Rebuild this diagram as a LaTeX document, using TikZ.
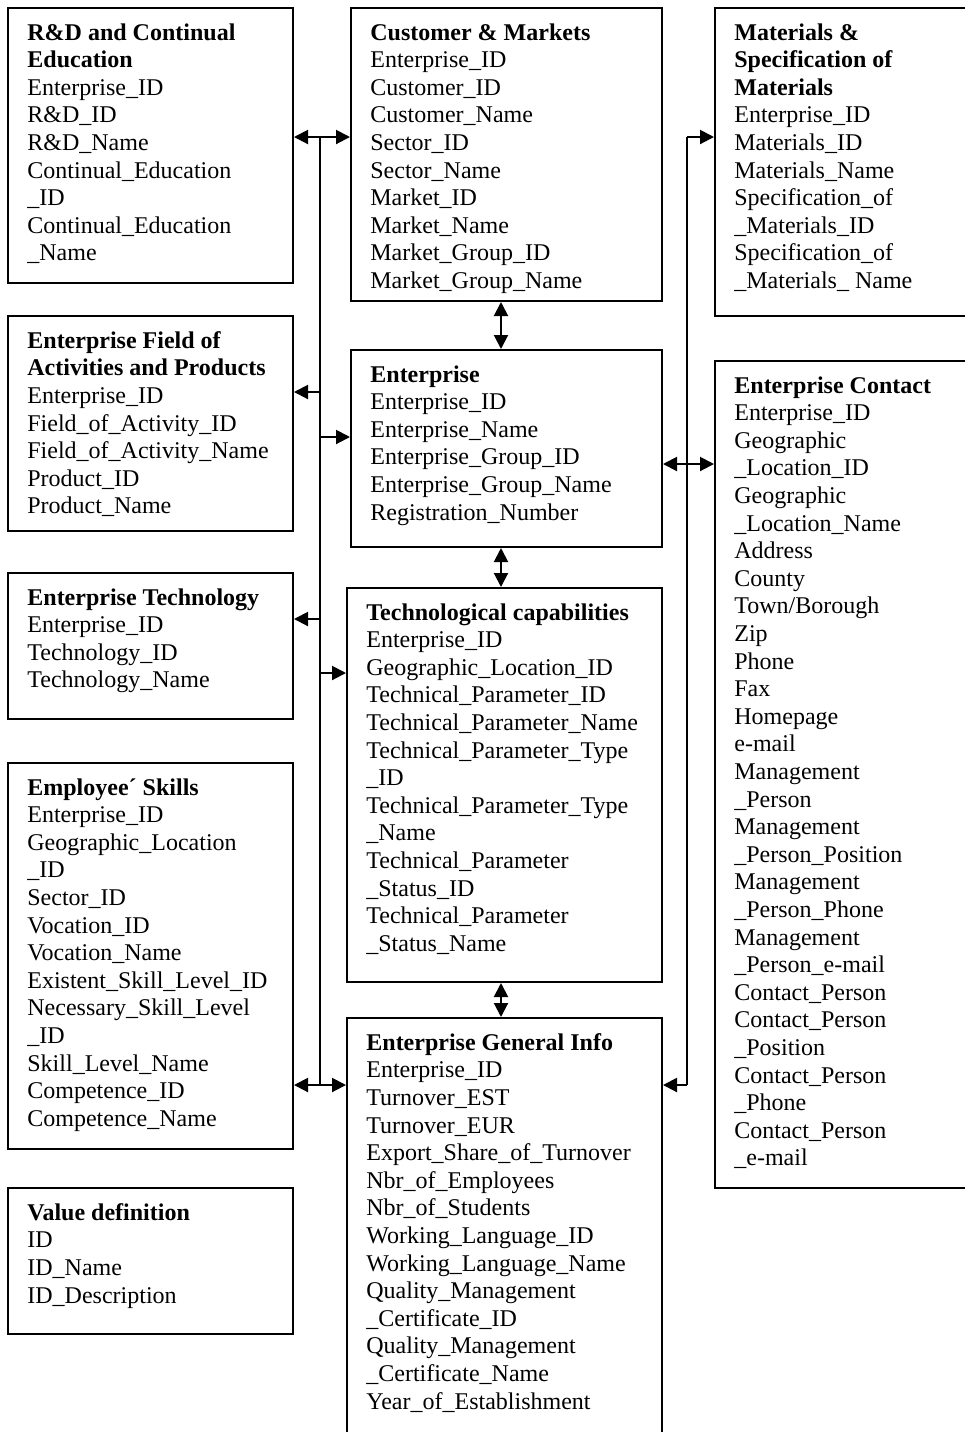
\documentclass[tikz,border=0pt]{standalone}
\usepackage{fontspec}
\setmainfont{Liberation Serif}
\usetikzlibrary{arrows.meta}
\newcommand{\entity}[6]{%
  \node[entbox, minimum width=#4*0.5pt, minimum height=#5*0.5pt] (#1) at (#2,#3) {};
  \node[enttext] (#1txt) at ([xshift=10pt,yshift=-8pt]#1.north west) {#6};
}
\newcommand{\hd}[1]{\textbf{#1}}

\begin{document}
\begin{tikzpicture}[x=0.5pt, y=-0.5pt]
  \tikzset{entbox/.style={draw, line width=1pt, inner sep=0pt, anchor=north west},
           enttext/.style={anchor=north west, inner sep=0pt, align=left,
                           font=\fontsize{12}{13.8}\selectfont, execute at begin node=\strut},
           conn/.style={line width=1pt, -{Triangle[length=7pt,width=7pt]}},
           twoway/.style={line width=1pt, {Triangle[length=7pt,width=7pt]}-{Triangle[length=7pt,width=7pt]}}}
  \useasboundingbox (0,0) rectangle (965,1432);
  \clip (0,0) rectangle (965,1432);
  % left column
  \entity{rd}{7}{7}{285}{275}{\hd{R\&D and Continual}\\\hd{Education}\\Enterprise\_ID\\R\&D\_ID\\R\&D\_Name\\Continual\_Education\\\_ID\\Continual\_Education\\\_Name}
  \entity{fld}{7}{315}{285}{215}{\hd{Enterprise Field of}\\\hd{Activities and Products}\\Enterprise\_ID\\Field\_of\_Activity\_ID\\Field\_of\_Activity\_Name\\Product\_ID\\Product\_Name}
  \entity{tec}{7}{572}{285}{146}{\hd{Enterprise Technology}\\Enterprise\_ID\\Technology\_ID\\Technology\_Name}
  \entity{emp}{7}{762}{285}{386}{\hd{Employee´ Skills}\\Enterprise\_ID\\Geographic\_Location\\\_ID\\Sector\_ID\\Vocation\_ID\\Vocation\_Name\\Existent\_Skill\_Level\_ID\\Necessary\_Skill\_Level\\\_ID\\Skill\_Level\_Name\\Competence\_ID\\Competence\_Name}
  \entity{val}{7}{1187}{285}{146}{\hd{Value definition}\\ID\\ID\_Name\\ID\_Description}
  % middle column
  \entity{cm}{350}{7}{311}{293}{\hd{Customer \& Markets}\\Enterprise\_ID\\Customer\_ID\\Customer\_Name\\Sector\_ID\\Sector\_Name\\Market\_ID\\Market\_Name\\Market\_Group\_ID\\Market\_Group\_Name}
  \entity{ent}{350}{349}{311}{197}{\hd{Enterprise}\\Enterprise\_ID\\Enterprise\_Name\\Enterprise\_Group\_ID\\Enterprise\_Group\_Name\\Registration\_Number}
  \entity{cap}{346}{587}{315}{394}{\hd{Technological capabilities}\\Enterprise\_ID\\Geographic\_Location\_ID\\Technical\_Parameter\_ID\\Technical\_Parameter\_Name\\Technical\_Parameter\_Type\\\_ID\\Technical\_Parameter\_Type\\\_Name\\Technical\_Parameter\\\_Status\_ID\\Technical\_Parameter\\\_Status\_Name}
  \entity{gen}{346}{1017}{315}{430}{\hd{Enterprise General Info}\\Enterprise\_ID\\Turnover\_EST\\Turnover\_EUR\\Export\_Share\_of\_Turnover\\Nbr\_of\_Employees\\Nbr\_of\_Students\\Working\_Language\_ID\\Working\_Language\_Name\\Quality\_Management\\\_Certificate\_ID\\Quality\_Management\\\_Certificate\_Name\\Year\_of\_Establishment}
  % right column
  \entity{mat}{714}{7}{262}{308}{\hd{Materials \&}\\\hd{Specification of}\\\hd{Materials}\\Enterprise\_ID\\Materials\_ID\\Materials\_Name\\Specification\_of\\\_Materials\_ID\\Specification\_of\\\_Materials\_ Name}
  \entity{con}{714}{360}{262}{827}{\hd{Enterprise Contact}\\Enterprise\_ID\\Geographic\\\_Location\_ID\\Geographic\\\_Location\_Name\\Address\\County\\Town/Borough\\Zip\\Phone\\Fax\\Homepage\\e-mail\\Management\\\_Person\\Management\\\_Person\_Position\\Management\\\_Person\_Phone\\Management\\\_Person\_e-mail\\Contact\_Person\\Contact\_Person\\\_Position\\Contact\_Person\\\_Phone\\Contact\_Person\\\_e-mail}
  % left bus
  \coordinate (lb1) at (320,137);
  \coordinate (lb2) at (320,392);
  \coordinate (lb3) at (320,437);
  \coordinate (lb4) at (320,619);
  \coordinate (lb5) at (320,673);
  \coordinate (lb6) at (320,1085);
  \draw[line width=1pt] (lb1) -- (lb6);
  \draw[conn] (lb1) -- (rd.east |- lb1);
  \draw[conn] (lb1) -- (cm.west |- lb1);
  \draw[conn] (lb2) -- (fld.east |- lb2);
  \draw[conn] (lb3) -- (ent.west |- lb3);
  \draw[conn] (lb4) -- (tec.east |- lb4);
  \draw[conn] (lb5) -- (cap.west |- lb5);
  \draw[conn] (lb6) -- (emp.east |- lb6);
  \draw[conn] (lb6) -- (gen.west |- lb6);
  % right bus
  \coordinate (rb1) at (687,137);
  \coordinate (rb2) at (687,464);
  \coordinate (rb3) at (687,1085);
  \draw[line width=1pt] (rb1) -- (rb3);
  \draw[conn] (rb1) -- (mat.west |- rb1);
  \draw[conn] (rb2) -- (ent.east |- rb2);
  \draw[conn] (rb2) -- (con.west |- rb2);
  \draw[conn] (rb3) -- (gen.east |- rb3);
  % middle links
  \coordinate (mid) at (501,0);
  \draw[twoway] (cm.south -| mid) -- (ent.north -| mid);
  \draw[twoway] (ent.south -| mid) -- (cap.north -| mid);
  \draw[twoway] (cap.south -| mid) -- (gen.north -| mid);
\end{tikzpicture}
\end{document}
